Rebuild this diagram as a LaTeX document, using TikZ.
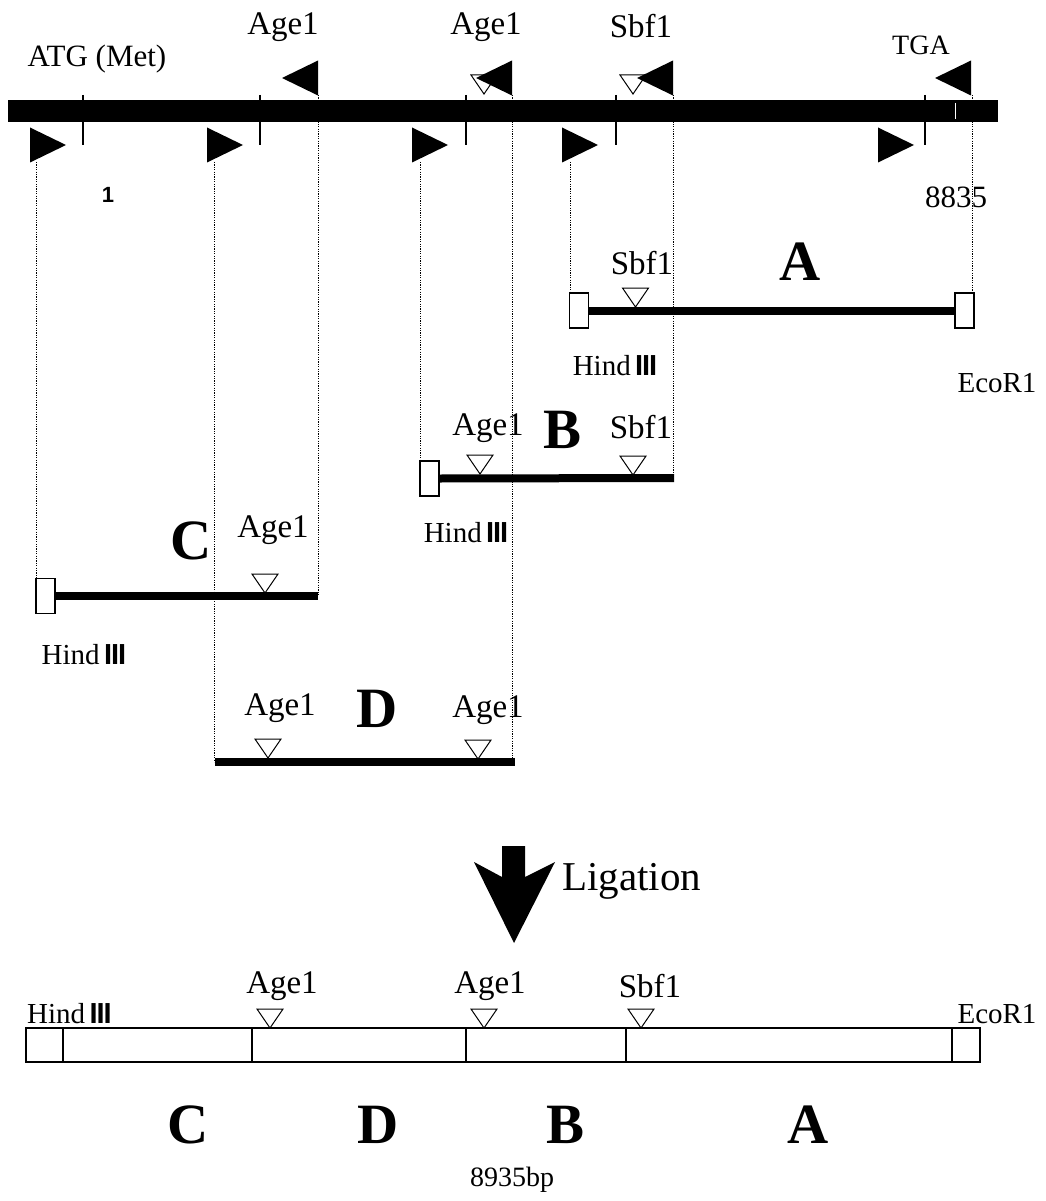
\documentclass[tikz,border=0pt]{standalone}
\usepackage{fontspec}
\setmainfont{Liberation Serif}
\newfontfamily\barfont{Liberation Sans}
\newcommand{\hindiii}{Hind\,{\barfont\bfseries\kern-0.5pt I\kern-1pt I\kern-1pt I}}
\begin{document}
\begin{tikzpicture}[x=1pt,y=-1pt,
  lab/.style={inner sep=0pt,font=\fontsize{33}{36}\selectfont},
  smalllab/.style={inner sep=0pt,font=\fontsize{29}{32}\selectfont},
  biglab/.style={inner sep=0pt,font=\fontsize{57}{60}\selectfont\bfseries},
  endbox/.style={draw,fill=white,line width=1.2pt,minimum width=19pt,minimum height=35pt,inner sep=0pt},
  frag/.style={line width=8pt},
  guide/.style={line width=0.9pt,dash pattern=on 1.2pt off 1.2pt},
  cutsite/.pic={\draw[fill=white,line width=1pt] (0,0) -- (-13,-19) -- (13,-19) -- cycle;},
  fwdprimer/.pic={\fill (0,-17.5) -- (36,0) -- (0,17.5) -- cycle;},
  revprimer/.pic={\fill (0,-17.5) -- (-36,0) -- (0,17.5) -- cycle;}
]
\useasboundingbox (0,0) rectangle (1045,1201);

% ---------- genomic map ----------
\fill (8,100) rectangle (998,122);
\draw[white,line width=1pt] (955,103) -- (955,119);
\foreach \t in {83,260,466,616,925} \draw[line width=2pt] (\t,95) -- (\t,145);

\node[inner sep=0pt,font=\fontsize{31}{34}\selectfont] (atg) at (97,59) {ATG (Met)};
\node[lab] (age1a) at (283,27) {Age1};
\node[lab] (age1b) at (486,27) {Age1};
\node[lab] (sbf1t) at (641,26) {Sbf1};
\node[inner sep=0pt,font=\fontsize{28}{30}\selectfont] (tga) at (921,45) {TGA};
\node[inner sep=0pt,font=\barfont\fontsize{22}{24}\selectfont\bfseries] (one) at (108,195) {1};
\node[inner sep=0pt,font=\fontsize{31}{34}\selectfont] (end) at (956,197) {8835};

% cut sites on the map
\pic at (484,94) {cutsite};
\pic at (633,94) {cutsite};

% reverse primers
\pic at (318,78) {revprimer};
\pic at (512,78) {revprimer};
\pic at (673,78) {revprimer};
\pic at (971,78) {revprimer};
% forward primers
\pic at (30,145) {fwdprimer};
\pic at (207,145) {fwdprimer};
\pic at (412,145) {fwdprimer};
\pic at (562,145) {fwdprimer};
\pic at (878,145) {fwdprimer};

% ---------- fragment A ----------
\node[endbox] (Ah) at (579,310.5) {};
\node[endbox] (Ae) at (964.5,310.5) {};
\draw[frag] (Ah.east) -- (Ae.west);
\pic at (635.5,307) {cutsite};
\node[lab] (Asbf) at (642,263) {Sbf1};
\node[biglab] (Alab) at (800,262) {A};
\node[smalllab] (Ahind) at (615,366) {\hindiii};
\node[smalllab] (Aeco) at (997,383) {EcoR1};

% ---------- fragment B ----------
\node[endbox] (Bh) at (429.5,478.5) {};
\coordinate (Be) at (674,478);
\draw[frag] (Bh.east) -- (Be);
\pic at (480,474) {cutsite};
\pic at (633,475) {cutsite};
\node[lab] (Bage) at (488,428) {Age1};
\node[biglab] (Blab) at (563,430) {B};
\node[lab] (Bsbf) at (641,427) {Sbf1};
\node[smalllab] (Bhind) at (466,533) {\hindiii};

% ---------- fragment C ----------
\node[endbox] (Ch) at (45.5,596) {};
\coordinate (Ce) at (318,596);
\draw[frag] (Ch.east) -- (Ce);
\pic at (265,593) {cutsite};
\node[biglab] (Clab) at (191,541) {C};
\node[lab] (Cage) at (273,530) {Age1};
\node[smalllab] (Chind) at (84,655) {\hindiii};

% ---------- fragment D ----------
\coordinate (Ds) at (215,762);
\coordinate (De) at (515,762);
\draw[frag] (Ds) -- (De);
\pic at (268,758) {cutsite};
\pic at (478,759) {cutsite};
\node[lab] (Dage1) at (280,708) {Age1};
\node[biglab] (Dlab) at (377,709) {D};
\node[lab] (Dage2) at (488,710) {Age1};

% ---------- guide lines from primers to fragments ----------
\coordinate (g1) at (36,162);
\coordinate (g2) at (214,162);
\coordinate (g3) at (318,95);
\coordinate (g4) at (420,162);
\coordinate (g5) at (512,95);
\coordinate (g6) at (570,162);
\coordinate (g7) at (673,95);
\coordinate (g8) at (972,95);
\draw[guide] (g1) -- (g1 |- Ch.north);
\draw[guide] (g2) -- (g2 |- Ds);
\draw[guide] (g3) -- (Ce);
\draw[guide] (g4) -- (g4 |- Bh.north);
\draw[guide] (g5) -- (g5 |- De);
\draw[guide] (g6) -- (g6 |- Ah.north);
\draw[guide] (g7) -- (g7 |- Be);
\draw[guide] (g8) -- (g8 |- Ae.north);

% ---------- ligation arrow ----------
\fill (502,846) -- (502,877) -- (474,862) -- (514,943) -- (555,862) -- (525,877) -- (525,846) -- cycle;
\node[inner sep=0pt,font=\fontsize{41}{44}\selectfont,anchor=west] (lig) at (562,881) {Ligation};

% ---------- ligated construct ----------
\draw[line width=2pt,fill=white] (26,1028) rectangle (980,1062);
\foreach \d in {63,252,466,626,952} \draw[line width=2pt] (\d,1028) -- (\d,1062);
\pic at (270,1028) {cutsite};
\pic at (484,1028) {cutsite};
\pic at (641,1028) {cutsite};
\node[smalllab,anchor=west] (fhind) at (27,1014) {\hindiii};
\node[smalllab] (feco) at (997,1014) {EcoR1};
\node[lab] (fage1) at (282,986) {Age1};
\node[lab] (fage2) at (490,986) {Age1};
\node[lab] (fsbf) at (650,986) {Sbf1};
\node[biglab] (fC) at (188,1125) {C};
\node[biglab] (fD) at (378,1125) {D};
\node[biglab] (fB) at (566,1125) {B};
\node[biglab] (fA) at (808,1125) {A};
\node[inner sep=0pt,font=\fontsize{28}{30}\selectfont] (len) at (512,1180) {8935bp};
\end{tikzpicture}
\end{document}
